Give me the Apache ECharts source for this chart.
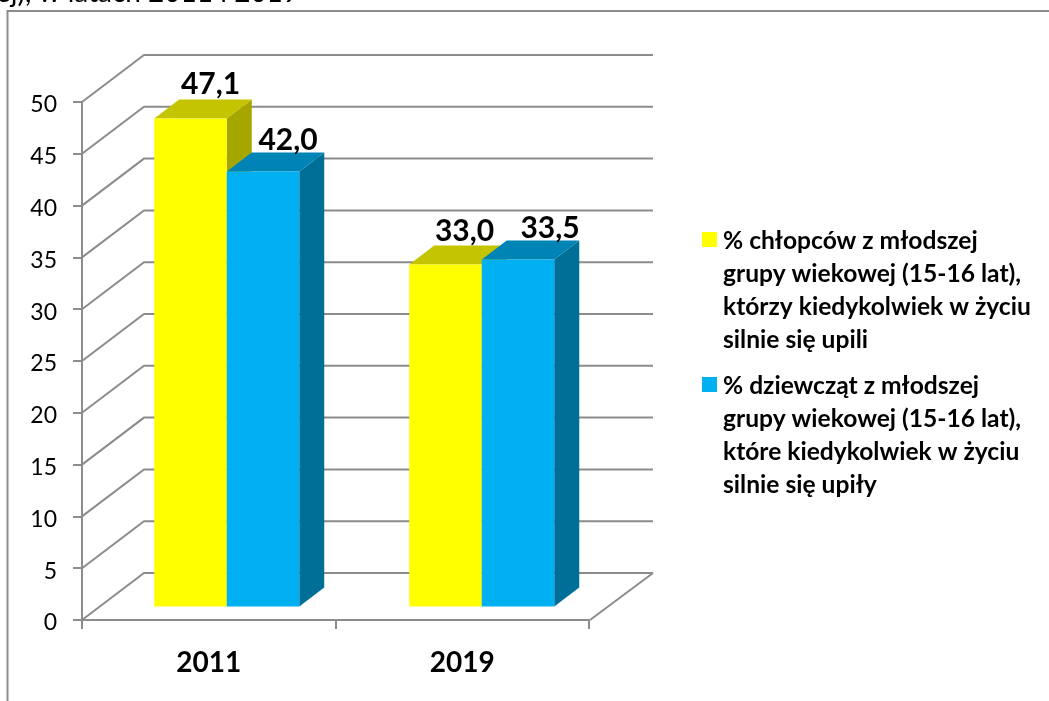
<!DOCTYPE html>
<html>
<head>
<meta charset="utf-8">
<style>html,body{margin:0;padding:0;background:#fff;overflow:hidden}#c{width:1049px;height:701px}</style>
<script src="https://cdn.jsdelivr.net/npm/echarts@6/dist/echarts.min.js"></script>
</head>
<body>
<div id="c"></div>
<script>
const years = ['2011', '2019'];
const boys = [47.1, 33.0];
const girls = [42.0, 33.5];
const yTicks = [0, 5, 10, 15, 20, 25, 30, 35, 40, 45, 50];
const boysName = '% chłopców z młodszej\ngrupy wiekowej (15-16 lat),\nktórzy kiedykolwiek w życiu\nsilnie się upili';
const girlsName = '% dziewcząt z młodszej\ngrupy wiekowej (15-16 lat),\nktóre kiedykolwiek w życiu\nsilnie się upiły';
const headingTail = 'ej), w latach 2011 i 2019';

const FONT = 'Lato, "Open Sans", sans-serif';
const AXIS = '#8c8c8c';
// Oblique projection of the pseudo-3D box
const WALL_DX = 62, WALL_DY = 47;     // front axis plane -> back wall
const BAR_SHIFT_X = 18, BAR_SHIFT_Y = 13.5; // front axis plane -> bar front face
const BAR_DX = 25, BAR_DY = 19;       // bar depth
const BAR_W = 72.5;
const CLUSTER_DRIFT = 1.5;            // extra horizontal shift per category
// Hand placement of the value labels, per series and category
const BOY_LABEL_NUDGE = [[-5, -1], [-6, 0]];
const GIRL_LABEL_NUDGE = [[0, 2], [7, 2]];
// Legend swatch sits level with the first text line of a 132px tall entry
const SWATCH = 'path://M0 0L0.01 0Z M0 7.5H15V22.5H0Z M0 132L0.01 132Z';

function wallItem(params, api) {
  const v = api.value(0);
  const y = api.coord([0, v])[1];
  const x0 = params.coordSys.x, w = params.coordSys.width;
  const children = [{
    type: 'polyline',
    shape: { points: [[x0, y], [x0 + WALL_DX, y - WALL_DY], [x0 + WALL_DX + w + 2, y - WALL_DY]] },
    style: { stroke: AXIS, lineWidth: 2, fill: null }
  }];
  if (v === 0) {
    children.push({
      type: 'line',
      shape: { x1: x0 + w + 1, y1: y, x2: x0 + w + WALL_DX + 2, y2: y - WALL_DY },
      style: { stroke: AXIS, lineWidth: 2 }
    });
  }
  return { type: 'group', children };
}

function boxItem(side, front, top, dark, nudge) {
  return function (params, api) {
    const cat = api.value(0), val = api.value(1);
    const cx = api.coord([cat, 0])[0] + BAR_SHIFT_X + cat * CLUSTER_DRIFT;
    const yTop = api.coord([cat, val])[1] - BAR_SHIFT_Y;
    const yBase = api.coord([cat, 0])[1] - BAR_SHIFT_Y;
    const l = side < 0 ? cx - BAR_W : cx;
    const r = l + BAR_W;
    const poly = (pts, fill) => ({ type: 'polygon', shape: { points: pts }, style: { fill, stroke: null } });
    return {
      type: 'group',
      children: [
        poly([[r, yTop], [r + BAR_DX, yTop - BAR_DY], [r + BAR_DX, yBase - BAR_DY], [r, yBase]], dark),
        poly([[l, yTop], [l + BAR_DX, yTop - BAR_DY], [r + BAR_DX, yTop - BAR_DY], [r, yTop]], top),
        poly([[l, yTop], [r, yTop], [r, yBase], [l, yBase]], front),
        {
          type: 'text',
          style: {
            x: l + BAR_W / 2 + BAR_DX + nudge[cat][0],
            y: yTop - BAR_DY + 1 + nudge[cat][1],
            text: val.toFixed(1).replace('.', ','),
            font: 'bold 30px ' + FONT,
            fill: '#000',
            textAlign: 'center',
            textVerticalAlign: 'bottom'
          }
        }
      ]
    };
  };
}

const chart = echarts.init(document.getElementById('c'), null, { renderer: 'canvas' });
chart.setOption({
  animation: false,
  backgroundColor: '#fff',
  title: {
    text: headingTail,
    left: -4,
    top: -21,
    padding: 0,
    textStyle: { fontFamily: FONT, fontSize: 28, fontWeight: 'normal', color: '#000' }
  },
  grid: { left: 82, top: 102, width: 507, height: 518 },
  xAxis: {
    type: 'category',
    data: years,
    boundaryGap: true,
    axisLine: { show: true, lineStyle: { color: AXIS, width: 2 } },
    axisTick: { show: true, length: 9, lineStyle: { color: AXIS, width: 2 } },
    axisLabel: { fontFamily: FONT, fontSize: 28, fontWeight: 'bold', color: '#000', margin: 29 },
    splitLine: { show: false }
  },
  yAxis: {
    type: 'value',
    min: 0,
    max: 50,
    interval: 5,
    axisLine: { show: true, lineStyle: { color: AXIS, width: 2 } },
    axisTick: { show: true, length: 9, lineStyle: { color: AXIS, width: 2 } },
    axisLabel: { fontFamily: FONT, fontSize: 23, color: '#000', margin: 25, verticalAlign: 'top', lineHeight: 6 },
    splitLine: { show: false }
  },
  legend: {
    orient: 'vertical',
    left: 702,
    top: 224.5,
    padding: 0,
    itemWidth: 15,
    itemHeight: 132,
    itemGap: 13,
    icon: SWATCH,
    data: [boysName, girlsName],
    selectedMode: false,
    textStyle: { fontFamily: FONT, fontSize: 24.6, fontWeight: 'bold', color: '#000', lineHeight: 33, padding: [0, 0, 0, 1] }
  },
  graphic: [{
    type: 'polyline',
    silent: true,
    shape: { points: [[7.5, 701], [7.5, 11], [1049, 11]] },
    style: { stroke: AXIS, lineWidth: 2, fill: null }
  }],
  series: [
    {
      type: 'custom',
      name: 'wall',
      z: 1,
      clip: false,
      silent: true,
      data: yTicks.map(v => [v]),
      encode: { y: 0 },
      renderItem: wallItem
    },
    {
      type: 'custom',
      name: boysName,
      z: 3,
      clip: false,
      itemStyle: { color: '#ffff00' },
      data: years.map((y, i) => [i, boys[i]]),
      encode: { x: 0, y: 1 },
      renderItem: boxItem(-1, '#ffff00', '#c4c400', '#a6a600', BOY_LABEL_NUDGE)
    },
    {
      type: 'custom',
      name: girlsName,
      z: 4,
      clip: false,
      itemStyle: { color: '#00b0f0' },
      data: years.map((y, i) => [i, girls[i]]),
      encode: { x: 0, y: 1 },
      renderItem: boxItem(1, '#00b0f0', '#0084b5', '#006f98', GIRL_LABEL_NUDGE)
    }
  ]
});
</script>
</body>
</html>
